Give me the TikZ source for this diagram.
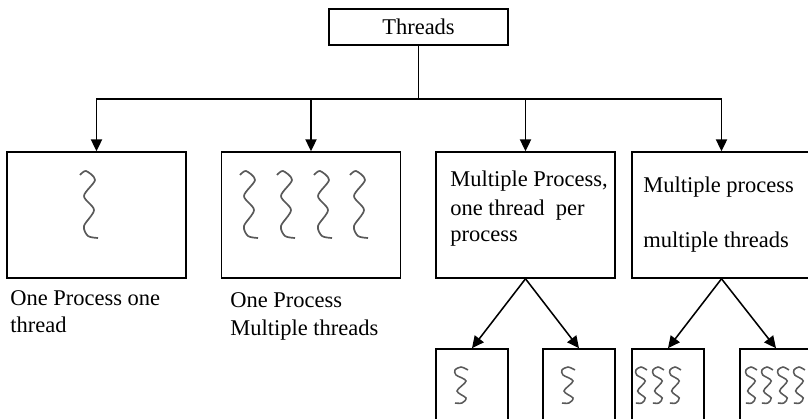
\documentclass[tikz,border=0pt]{standalone}
\usepackage{fontspec}
\setmainfont{Liberation Serif}
\usetikzlibrary{arrows.meta}
\usetikzlibrary{positioning}

\tikzset{
  box/.style={draw, line width=1.1pt, minimum width=4.475cm, minimum height=3.15cm, inner sep=0pt},
  smallbox/.style={draw, line width=1.1pt, minimum width=1.8cm, minimum height=2.775cm, inner sep=0pt},
  words/.style={anchor=base west, inner sep=0pt, font=\fontsize{16}{19}\selectfont},
  arr/.style={-{Triangle[width=8pt,length=8.5pt]}, line width=1.1pt},
  bigthread/.pic={\draw[black!65, line width=1.2pt] plot[smooth] coordinates {(-9,4) (-3,0) (6,9) (-5,25) (5,39) (-5,55) (-1,65) (9,67)};},
  thread/.pic={\draw[black!65, line width=1.1pt] plot[smooth] coordinates {(7,3) (0,0) (-6,3) (-5,8) (5,14) (-4,24) (5,31) (1,36) (-6,36)};}
}

\begin{document}
\begin{tikzpicture}[x=0.025cm, y=-0.025cm]
            \useasboundingbox (0,0) rectangle (808,419);
            \clip (0,0) rectangle (808,419);

            \node[draw, line width=1.1pt, minimum width=4.475cm, minimum height=0.9cm, inner sep=0pt, font=\fontsize{16}{19}\selectfont] (threads) at (418.5,27) {Threads};
            \coordinate (bus) at (418.5,99);

            \node[box] (single) at (96.5,215) {};
            \node[box] (multi) at (311,215) {};
            \node[box] (perproc) at (525.5,215) {};
            \node[box] (mixed) at (721.5,215) {};

            \node[smallbox] (pa) at (472,404.5) {};
            \node[smallbox] (pb) at (579,404.5) {};
            \node[smallbox] (ma) at (668,404.5) {};
            \node[smallbox] (mb) at (776,404.5) {};

            % texts
            \node[words] (singlecap) at (10,305) {One Process one};
            \node[words] (singlecapb) at (10,332) {thread};
            \node[words] (multicap) at (230,307) {One Process};
            \node[words] (multicapb) at (230,335) {Multiple threads};
            \node[words] (perproca) at (450,187) {Multiple Process,};
            \node[words] (perprocb) at (450,216) {one thread\ \ per};
            \node[words] (perprocc) at (450,242) {process};
            \node[words] (mixeda) at (643,193) {Multiple process};
            \node[words] (mixedb) at (643,248) {multiple threads};

            % threads inside the boxes
            \pic at (89,171) {bigthread};
            \foreach \x in {249,286,323,359}
                \pic at (\x,171) {bigthread};
            \pic at (461,367) {thread};
            \pic at (568,367) {thread};
            \foreach \x in {641,658,675}
                \pic[xscale=0.85] at (\x,367) {thread};
            \foreach \x in {751,767,783,799}
                \pic[xscale=0.85] at (\x,367) {thread};

            \draw[line width=1.1pt] (threads) -- (bus);
            \foreach \b in {single,multi,perproc,mixed}
                \draw[arr] (bus) -| (\b);
            \draw[arr] (perproc.south) -- (pa.north);
            \draw[arr] (perproc.south) -- (pb.north);
            \draw[arr] (mixed.south) -- (ma.north);
            \draw[arr] (mixed.south) -- (mb.north);
        \end{tikzpicture}
\end{document}
